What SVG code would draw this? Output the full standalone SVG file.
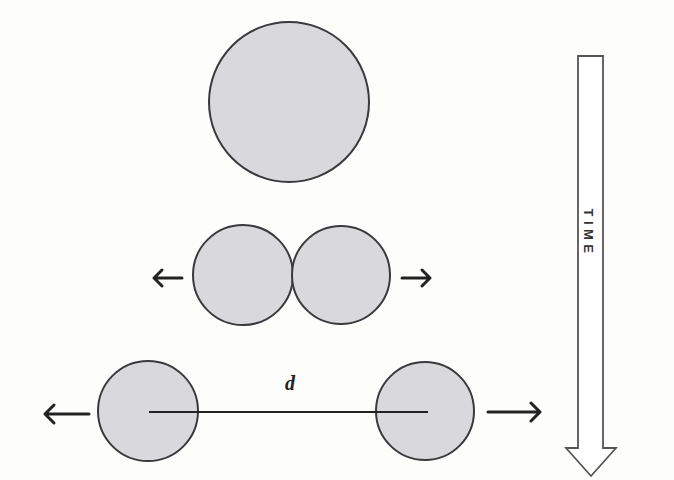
<svg xmlns="http://www.w3.org/2000/svg" width="674" height="480" viewBox="0 0 674 480">
<defs>
<style>
.ball{fill:#d9d8da;stroke:#3a3a3e;stroke-width:2}
.mv{fill:none;stroke:#222;stroke-width:3;stroke-linecap:round;stroke-linejoin:round}
.time{fill:#fff;stroke:#555;stroke-width:1.8;stroke-linejoin:miter}
</style>
</defs>
<rect width="674" height="480" fill="#fdfdfc"/>
<g id="drop-whole"><circle class="ball" cx="289" cy="102" r="80"/></g>
<g id="drop-split-left"><circle class="ball" cx="243" cy="275" r="50"/></g>
<g id="drop-split-right"><circle class="ball" cx="341" cy="275" r="49"/></g>
<g id="drop-far-left"><circle class="ball" cx="148" cy="411" r="50"/></g>
<g id="drop-far-right"><circle class="ball" cx="425" cy="411" r="49"/></g>
<g id="connectors">
<path class="mv" d="M182 278H154M162 270L154 278L162 286"/>
<path class="mv" d="M402 278H430M422 270L430 278L422 286"/>
<path class="mv" d="M89 414H45M54 405L45 414L54 423"/>
<path class="mv" d="M488 412H540M531 403L540 412L531 421"/>
<line x1="149" y1="412" x2="428" y2="412" stroke="#222" stroke-width="2"/>
</g>
<text x="290" y="390" font-family="Liberation Serif, serif" font-style="italic" font-weight="bold" font-size="20" text-anchor="middle" fill="#222">d</text>
<g id="time-arrow">
<path class="time" d="M578 56H603V448H616L591 476L566 448H578Z"/>
<text transform="translate(588 233) rotate(90)" font-family="Liberation Sans, sans-serif" font-size="13" font-weight="bold" letter-spacing="4.5" text-anchor="middle" dominant-baseline="central" fill="#333">TIME</text>
</g>
</svg>
